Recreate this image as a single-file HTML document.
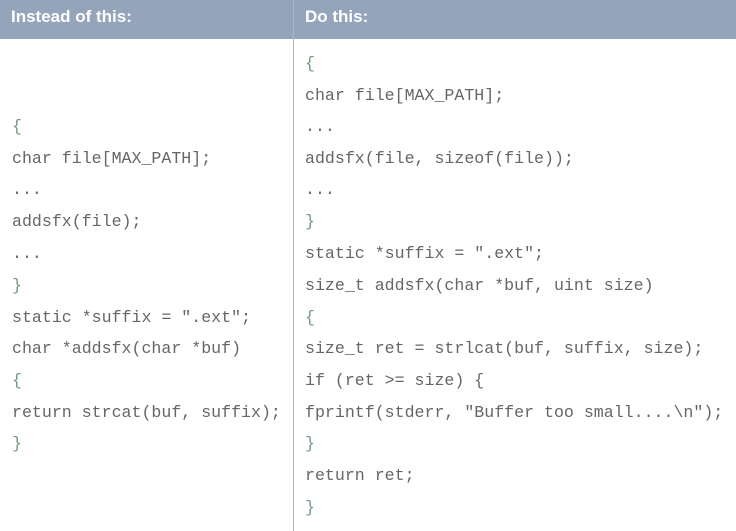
<!DOCTYPE html>
<html><head><style>
body{margin:0;width:736px;height:531px;background:#fff;position:relative;overflow:hidden;font-family:"Liberation Sans",sans-serif}
.hd{position:absolute;top:0;left:0;width:736px;height:39px;background:#94a5bb}
.ht{position:absolute;top:7px;color:#fff;font-weight:bold;font-size:17px}
.dv{position:absolute;left:293px;top:0;width:1px;height:531px;background:#a9b7c8}
.c{position:absolute;font-family:"Liberation Mono",monospace;font-size:16.6px;color:#666;white-space:pre;line-height:20px}
.b{color:#6f9a7c}
</style></head><body>
<div class="hd"></div>
<div class="dv"></div>
<div class="ht" style="left:11px">Instead of this:</div>
<div class="ht" style="left:305px">Do this:</div>

<div class="c b" style="left:12px;top:117px">{</div>
<div class="c" style="left:12px;top:149px">char file[MAX_PATH];</div>
<div class="c" style="left:12px;top:180px">...</div>
<div class="c" style="left:12px;top:212px">addsfx(file);</div>
<div class="c" style="left:12px;top:244px">...</div>
<div class="c b" style="left:12px;top:276px">}</div>
<div class="c" style="left:12px;top:308px">static *suffix = ".ext";</div>
<div class="c" style="left:12px;top:339px">char *addsfx(char *buf)</div>
<div class="c b" style="left:12px;top:371px">{</div>
<div class="c" style="left:12px;top:403px">return strcat(buf, suffix);</div>
<div class="c b" style="left:12px;top:434px">}</div>

<div class="c b" style="left:305px;top:54px">{</div>
<div class="c" style="left:305px;top:86px">char file[MAX_PATH];</div>
<div class="c" style="left:305px;top:117px">...</div>
<div class="c" style="left:305px;top:149px">addsfx(file, sizeof(file));</div>
<div class="c" style="left:305px;top:180px">...</div>
<div class="c b" style="left:305px;top:212px">}</div>
<div class="c" style="left:305px;top:244px">static *suffix = ".ext";</div>
<div class="c" style="left:305px;top:276px">size_t addsfx(char *buf, uint size)</div>
<div class="c b" style="left:305px;top:308px">{</div>
<div class="c" style="left:305px;top:339px">size_t ret = strlcat(buf, suffix, size);</div>
<div class="c" style="left:305px;top:371px">if (ret &gt;= size) {</div>
<div class="c" style="left:305px;top:403px">fprintf(stderr, "Buffer too small....\n");</div>
<div class="c b" style="left:305px;top:434px">}</div>
<div class="c" style="left:305px;top:466px">return ret;</div>
<div class="c b" style="left:305px;top:498px">}</div>
</body></html>
